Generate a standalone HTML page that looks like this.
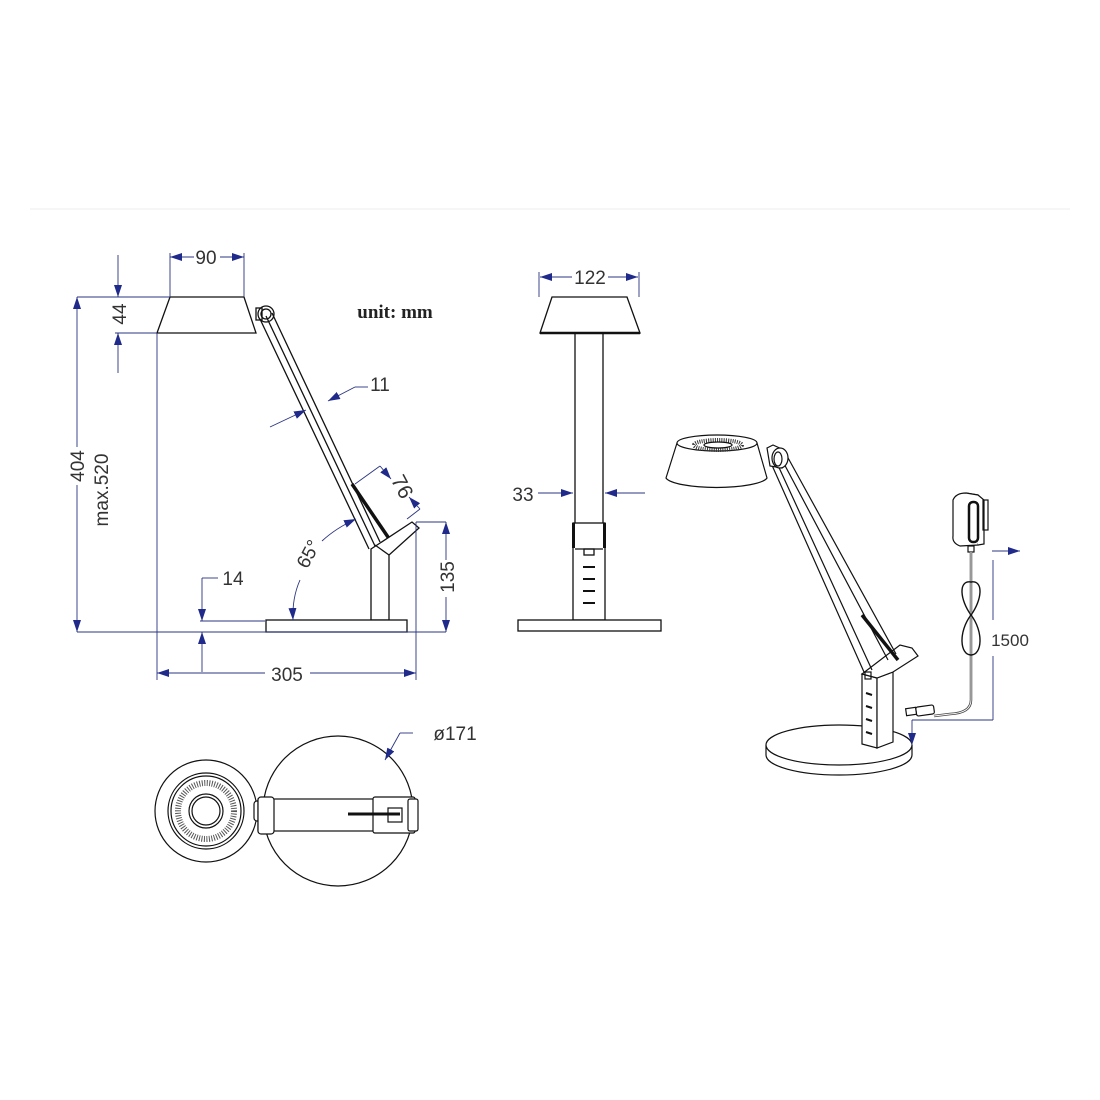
<!DOCTYPE html>
<html><head><meta charset="utf-8"><style>
html,body{margin:0;padding:0;background:#fff;}
svg{display:block;}
text{font-family:"Liberation Sans",sans-serif;fill:#333;}
</style></head><body>
<svg width="1100" height="1100" viewBox="0 0 1100 1100" xmlns="http://www.w3.org/2000/svg">
<defs>
<marker id="a" viewBox="0 0 12 8" refX="12" refY="4" markerWidth="12" markerHeight="8" markerUnits="userSpaceOnUse" orient="auto"><path d="M0,0L12,4L0,8Z" fill="#1f2a8a"/></marker>
</defs>
<line x1="30" y1="209" x2="1070" y2="209" stroke="#eee" stroke-width="1"/>

<!-- ===== SIDE VIEW ===== -->
<g fill="none" stroke="#111" stroke-width="1.3">
<polygon points="170,297 244,297 256,333 157,333" fill="#fff"/>
<rect x="256" y="308" width="6" height="12"/>
<circle cx="266" cy="314" r="8"/>
<circle cx="266" cy="314" r="5"/>
<line x1="260" y1="319" x2="369" y2="549"/>
<line x1="266" y1="316" x2="375" y2="546"/>
<line x1="272" y1="313" x2="380" y2="542"/>
<line x1="352" y1="484" x2="392" y2="543" stroke-width="3.5"/>
<polygon points="371,549 412,522 419,528 389,555 389,620 371,620 371,553" fill="#fff"/>
<line x1="389" y1="555" x2="375" y2="545"/>
<rect x="266" y="620" width="141" height="12" fill="#fff"/>
</g>
<g stroke="#2a3480" stroke-width="0.9" fill="none">
<line x1="170" y1="253" x2="170" y2="297"/><line x1="244" y1="253" x2="244" y2="297"/>
<line x1="194" y1="257" x2="170" y2="257" marker-end="url(#a)"/><line x1="220" y1="257" x2="244" y2="257" marker-end="url(#a)"/>
<line x1="77" y1="297" x2="170" y2="297"/><line x1="115" y1="333" x2="157" y2="333"/>
<line x1="118" y1="255" x2="118" y2="297" marker-end="url(#a)"/>
<line x1="118" y1="373" x2="118" y2="333" marker-end="url(#a)"/>
<line x1="77" y1="447" x2="77" y2="297" marker-end="url(#a)"/>
<line x1="77" y1="485" x2="77" y2="632" marker-end="url(#a)"/>
<line x1="157" y1="333" x2="157" y2="680"/>
<line x1="416" y1="522" x2="416" y2="680"/>
<line x1="77" y1="632" x2="446" y2="632"/>
<line x1="416" y1="522" x2="446" y2="522"/>
<line x1="265" y1="673" x2="157" y2="673" marker-end="url(#a)"/>
<line x1="310" y1="673" x2="416" y2="673" marker-end="url(#a)"/>
<line x1="200" y1="621" x2="265" y2="621"/>
<line x1="202" y1="578" x2="218" y2="578"/>
<line x1="202" y1="578" x2="202" y2="621" marker-end="url(#a)"/>
<line x1="202" y1="672" x2="202" y2="632" marker-end="url(#a)"/>
<line x1="446" y1="560" x2="446" y2="522" marker-end="url(#a)"/>
<line x1="446" y1="597" x2="446" y2="632" marker-end="url(#a)"/>
<line x1="270" y1="427" x2="306" y2="410" marker-end="url(#a)"/>
<line x1="355" y1="387" x2="328" y2="401" marker-end="url(#a)"/>
<line x1="355" y1="387" x2="368" y2="387"/>
<line x1="355" y1="484" x2="380" y2="466"/>
<line x1="407" y1="519" x2="420" y2="509"/>
<line x1="380" y1="466" x2="391" y2="479" marker-end="url(#a)"/>
<line x1="420" y1="509" x2="409" y2="497" marker-end="url(#a)"/>
<path d="M322,541 Q336,528 356,519" marker-end="url(#a)"/>
<path d="M300,580 Q292,598 293,620" marker-end="url(#a)"/>
</g>
<text x="206" y="264" font-size="19" text-anchor="middle">90</text>
<text transform="translate(126,314) rotate(-90)" font-size="19" text-anchor="middle">44</text>
<text transform="translate(84,466) rotate(-90)" font-size="19" text-anchor="middle">404</text>
<text transform="translate(108,490) rotate(-90)" font-size="19" text-anchor="middle">max.520</text>
<text x="287" y="681" font-size="19" text-anchor="middle">305</text>
<text x="233" y="585" font-size="19" text-anchor="middle">14</text>
<text transform="translate(454,577) rotate(-90)" font-size="19" text-anchor="middle">135</text>
<text x="380" y="391" font-size="19" text-anchor="middle">11</text>
<text transform="translate(396,490) rotate(62)" font-size="21" text-anchor="middle">76</text>
<text transform="translate(314,557) rotate(-62)" font-size="19" text-anchor="middle">65°</text>
<text x="395" y="318" font-size="19" text-anchor="middle" style="font-family:'Liberation Serif',serif;font-weight:bold;fill:#222">unit: mm</text>

<!-- ===== FRONT VIEW ===== -->
<g fill="none" stroke="#111" stroke-width="1.3">
<polygon points="552,297 627,297 640,333 540,333" fill="#fff"/>
<line x1="540" y1="333" x2="640" y2="333" stroke-width="2.5"/>
<line x1="575" y1="333" x2="575" y2="523"/><line x1="603" y1="333" x2="603" y2="523"/>
<rect x="573" y="523" width="32" height="97" fill="#fff"/>
<line x1="573.5" y1="523" x2="573.5" y2="548" stroke-width="3"/><line x1="604.5" y1="523" x2="604.5" y2="548" stroke-width="3"/>
<line x1="575" y1="549" x2="603" y2="549"/>
<rect x="584" y="549" width="10" height="6"/>
<g stroke-width="2"><line x1="583" y1="567" x2="595" y2="567"/><line x1="583" y1="579" x2="595" y2="579"/><line x1="583" y1="591" x2="595" y2="591"/><line x1="583" y1="603" x2="595" y2="603"/></g>
<rect x="518" y="620" width="143" height="11" fill="#fff"/>
</g>
<g stroke="#2a3480" stroke-width="0.9" fill="none">
<line x1="539" y1="272" x2="539" y2="297"/><line x1="639" y1="272" x2="639" y2="297"/>
<line x1="572" y1="277" x2="540" y2="277" marker-end="url(#a)"/>
<line x1="608" y1="277" x2="638" y2="277" marker-end="url(#a)"/>
<line x1="538" y1="493" x2="573" y2="493" marker-end="url(#a)"/>
<line x1="645" y1="493" x2="605" y2="493" marker-end="url(#a)"/>
</g>
<text x="590" y="284" font-size="19" text-anchor="middle">122</text>
<text x="523" y="501" font-size="19" text-anchor="middle">33</text>

<!-- ===== TOP VIEW ===== -->
<g fill="none" stroke="#111" stroke-width="1.2">
<circle cx="338" cy="811" r="75" fill="#fff"/>
<circle cx="206" cy="811" r="51" fill="#fff"/>
<circle cx="206" cy="811" r="38"/>
<circle cx="206" cy="811" r="35"/>
<circle cx="206" cy="811" r="28" stroke="#555" stroke-width="6" stroke-dasharray="1 1.5"/>
<circle cx="206" cy="811" r="17"/>
<circle cx="206" cy="811" r="14"/>
<rect x="254" y="801" width="8" height="20" rx="3" fill="#fff"/>
<rect x="258" y="799" width="156" height="32" fill="#fff"/>
<rect x="258" y="797" width="16" height="37" rx="3" fill="#fff"/>
<rect x="373" y="797" width="42" height="36" rx="2" fill="#fff"/>
<rect x="408" y="799" width="10" height="32" rx="2" fill="#fff"/>
<rect x="388" y="808" width="14" height="14"/>
<line x1="348" y1="814" x2="400" y2="814" stroke-width="3"/>
</g>
<g stroke="#2a3480" stroke-width="0.9" fill="none">
<line x1="413" y1="733" x2="400" y2="733"/>
<line x1="400" y1="733" x2="385" y2="760" marker-end="url(#a)"/>
</g>
<text x="455" y="740" font-size="19" text-anchor="middle">ø171</text>

<!-- ===== PERSPECTIVE VIEW ===== -->
<g fill="none" stroke="#111" stroke-width="1.2">
<path d="M766,745 L766,755 A73,20 0 0 0 912,755 L912,745" fill="#fff"/>
<ellipse cx="839" cy="745" rx="73" ry="20" fill="#fff"/>
<polygon points="862,674 877,678 877,748 862,744" fill="#fff"/>
<polygon points="877,678 893,672 893,742 877,748" fill="#fff"/>
<polygon points="862,674 900,645 912,648 918,656 893,672 877,678" fill="#fff"/>
<rect x="865" y="672" width="6" height="7"/>
<g stroke-width="2"><line x1="866" y1="693" x2="872" y2="695"/><line x1="866" y1="706" x2="872" y2="708"/><line x1="866" y1="719" x2="872" y2="721"/><line x1="866" y1="732" x2="872" y2="734"/></g>
<line x1="771" y1="463" x2="864" y2="672"/>
<line x1="776" y1="461" x2="872" y2="670"/>
<line x1="781" y1="458" x2="888" y2="660"/>
<line x1="787" y1="456" x2="896" y2="654"/>
<line x1="862" y1="615" x2="898" y2="660" stroke-width="3.5"/>
<path d="M677,443 L666,478 A51,11 0 0 0 767,478 L757,443 Z" fill="#fff"/>
<ellipse cx="717" cy="443" rx="40" ry="8" fill="#fff"/>
<ellipse cx="718" cy="445" rx="24" ry="5" stroke="#333" stroke-width="4" stroke-dasharray="1 1.2"/>
<ellipse cx="718" cy="445" rx="14" ry="3"/>
<path d="M767,448 L773,445 L784,450 L782,468 L770,466 Z" fill="#fff"/>
<ellipse cx="780" cy="458" rx="8" ry="10" fill="#fff"/>
<ellipse cx="778" cy="459" rx="4" ry="7"/>
<path d="M953,500 Q956,493 966,493 L978,495 L978,545 L960,546 Q952,543 953,536 Z" fill="#fff"/>
<path d="M966,493 L978,495 L984,500 L984,544 L978,545" fill="#fff"/>
<rect x="983" y="500" width="5" height="30" />
<rect x="969" y="502" width="9" height="40" rx="4" stroke-width="2.5"/>
<rect x="968" y="546" width="6" height="6"/>
<path d="M971,552 L971,700 Q971,713 950,714 L934,716" stroke="#444" stroke-width="2.5"/>
<path d="M971,552 L971,700 Q971,713 950,714 L934,716" stroke="#fff" stroke-width="0.9"/>
<path d="M971,615 C960,600 958,580 971,582 C984,580 982,600 971,615 C958,632 960,655 971,655 C982,655 984,632 971,615 Z" stroke-width="1.4"/>
<rect x="916" y="706" width="18" height="9" rx="2" fill="#fff" transform="rotate(-8 925 710)"/>
<rect x="906" y="708" width="10" height="7" fill="#fff" transform="rotate(-8 911 711)"/>
</g>
<g stroke="#2a3480" stroke-width="0.9" fill="none">
<line x1="993" y1="560" x2="993" y2="620"/>
<line x1="993" y1="656" x2="993" y2="720"/>
<line x1="993" y1="720" x2="912" y2="720"/>
<line x1="912" y1="720" x2="912" y2="745" marker-end="url(#a)"/>
<line x1="992" y1="551" x2="1020" y2="551" marker-end="url(#a)"/>
</g>
<text x="1010" y="646" font-size="17" text-anchor="middle">1500</text>
</svg>
</body></html>
